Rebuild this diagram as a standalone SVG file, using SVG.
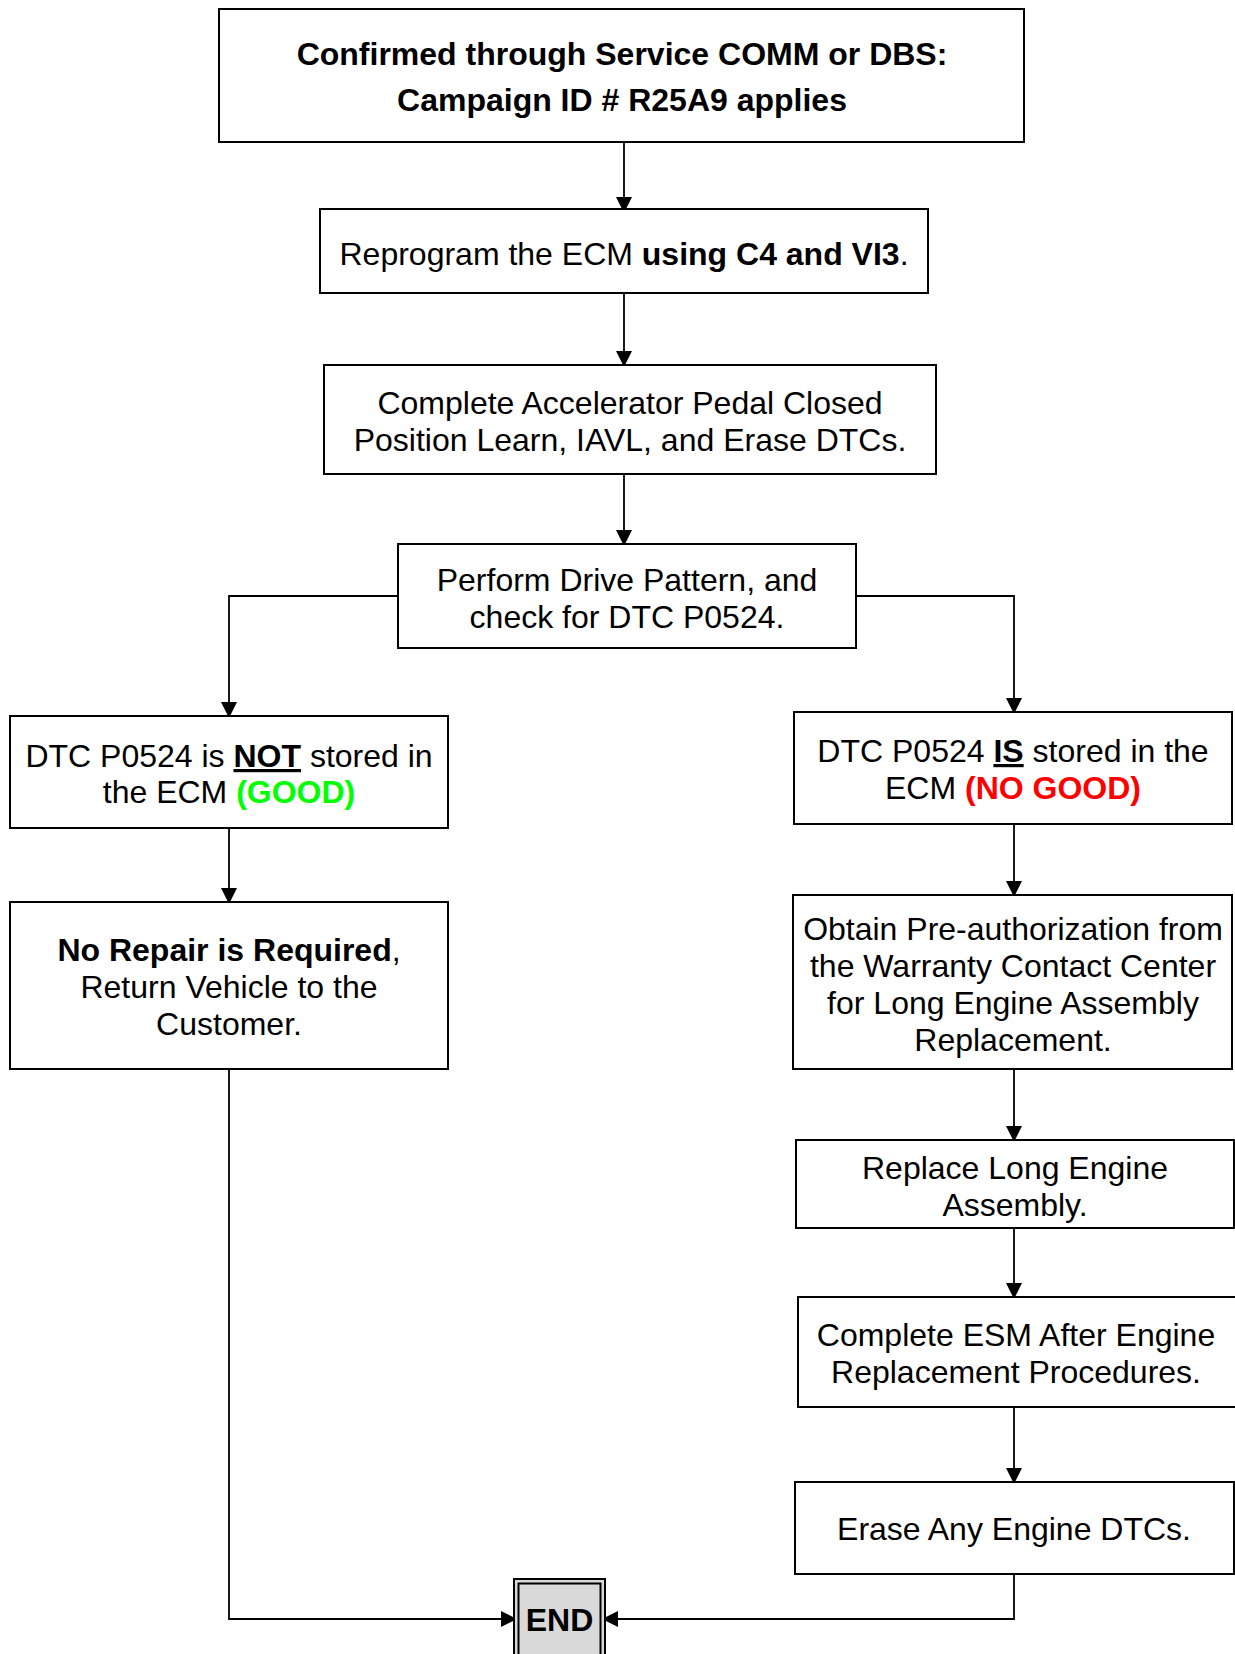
<svg xmlns="http://www.w3.org/2000/svg" width="1235" height="1654" viewBox="0 0 1235 1654">
<defs>
<marker id="ah" viewBox="0 0 16 16" refX="14" refY="8" markerWidth="16" markerHeight="16" markerUnits="userSpaceOnUse" orient="auto">
<path d="M0,0 L16,8 L0,16 Z" fill="#000"/>
</marker>
<style>
.box{fill:#fff;stroke:#000;stroke-width:2}
.t{font-family:"Liberation Sans",Arial,sans-serif;font-size:32px;fill:#000;text-anchor:middle}
.b{font-weight:bold}
.c{fill:none;stroke:#000;stroke-width:1.8}
.u{text-decoration:underline}
</style>
</defs>
<rect width="1235" height="1654" fill="#fff"/>
<g id="connectors">
<path class="c" d="M624,142 V211" marker-end="url(#ah)"/>
<path class="c" d="M624,293 V365" marker-end="url(#ah)"/>
<path class="c" d="M624,474 V544" marker-end="url(#ah)"/>
<path class="c" d="M398,596 H229 V716" marker-end="url(#ah)"/>
<path class="c" d="M856,596 H1014 V712" marker-end="url(#ah)"/>
<path class="c" d="M229,828 V902" marker-end="url(#ah)"/>
<path class="c" d="M1014,824 V895" marker-end="url(#ah)"/>
<path class="c" d="M1014,1069 V1140" marker-end="url(#ah)"/>
<path class="c" d="M1014,1228 V1297" marker-end="url(#ah)"/>
<path class="c" d="M1014,1407 V1482" marker-end="url(#ah)"/>
<path class="c" d="M229,1069 V1619 H515" marker-end="url(#ah)"/>
<path class="c" d="M1014,1574 V1619 H604" marker-end="url(#ah)"/>
</g>
<g id="n1">
<rect class="box" x="219" y="9" width="805" height="133"/>
<text class="t b" x="622" y="65">Confirmed through Service COMM or DBS:</text>
<text class="t b" x="622" y="111">Campaign ID # R25A9 applies</text>
</g>
<g id="n2">
<rect class="box" x="320" y="209" width="608" height="84"/>
<text class="t" x="624" y="265">Reprogram the ECM <tspan class="b">using C4 and VI3</tspan>.</text>
</g>
<g id="n3">
<rect class="box" x="324" y="365" width="612" height="109"/>
<text class="t" x="630" y="414">Complete Accelerator Pedal Closed</text>
<text class="t" x="630" y="451">Position Learn, IAVL, and Erase DTCs.</text>
</g>
<g id="n4">
<rect class="box" x="398" y="544" width="458" height="104"/>
<text class="t" x="627" y="591">Perform Drive Pattern, and</text>
<text class="t" x="627" y="628">check for DTC P0524.</text>
</g>
<g id="n5">
<rect class="box" x="10" y="716" width="438" height="112"/>
<text class="t" x="229" y="767">DTC P0524 is <tspan class="b u">NOT</tspan> stored in</text>
<text class="t" x="229" y="803">the ECM <tspan class="b" fill="#00ff00">(GOOD)</tspan></text>
</g>
<g id="n6">
<rect class="box" x="10" y="902" width="438" height="167"/>
<text class="t" x="229" y="961"><tspan class="b">No Repair is Required</tspan>,</text>
<text class="t" x="229" y="998">Return Vehicle to the</text>
<text class="t" x="229" y="1035">Customer.</text>
</g>
<g id="n7">
<rect class="box" x="794" y="712" width="438" height="112"/>
<text class="t" x="1013" y="762">DTC P0524 <tspan class="b u">IS</tspan> stored in the</text>
<text class="t" x="1013" y="799">ECM <tspan class="b" fill="#ff0000">(NO GOOD)</tspan></text>
</g>
<g id="n8">
<rect class="box" x="793" y="895" width="439" height="174"/>
<text class="t" x="1013" y="940">Obtain Pre-authorization from</text>
<text class="t" x="1013" y="977">the Warranty Contact Center</text>
<text class="t" x="1013" y="1014">for Long Engine Assembly</text>
<text class="t" x="1013" y="1051">Replacement.</text>
</g>
<g id="n9">
<rect class="box" x="796" y="1140" width="438" height="88"/>
<text class="t" x="1015" y="1179">Replace Long Engine</text>
<text class="t" x="1015" y="1216">Assembly.</text>
</g>
<g id="n10">
<rect class="box" x="798" y="1297" width="438" height="110"/>
<text class="t" x="1016" y="1346">Complete ESM After Engine</text>
<text class="t" x="1016" y="1383">Replacement Procedures.</text>
</g>
<g id="n11">
<rect class="box" x="795" y="1482" width="439" height="92"/>
<text class="t" x="1014" y="1540">Erase Any Engine DTCs.</text>
</g>
<g id="end">
<rect x="514" y="1579" width="91" height="90" fill="#d9d9d9" stroke="#000" stroke-width="2"/>
<rect x="518.5" y="1583.5" width="82" height="80" fill="none" stroke="#000" stroke-width="2"/>
<text class="t b" x="559.5" y="1631">END</text>
</g>
</svg>
